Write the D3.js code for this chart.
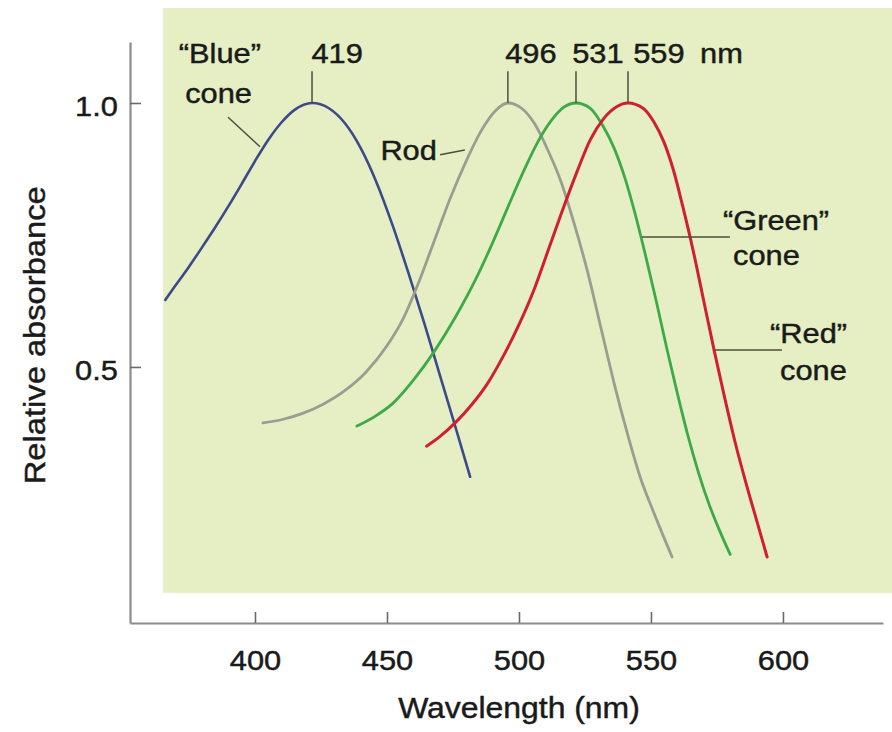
<!DOCTYPE html>
<html>
<head>
<meta charset="utf-8">
<script src="https://cdn.jsdelivr.net/npm/d3@7"></script>
<style>
  body { margin: 0; background: #fff; }
  text { font-family: "Liberation Sans", Arial, Helvetica, sans-serif; fill: #1a1a1a; stroke: #1a1a1a; stroke-width: 0.45px; }
</style>
</head>
<body>
<svg id="chart" width="892" height="732"></svg>
<script>
// absorbance spectra (nm, relative absorbance)
const blueNm  = [366, 370, 375, 380, 385, 390, 395, 400, 405, 410, 415, 421.6, 428, 434, 440, 446, 452, 458, 464, 470, 476, 481.5];
const blueAbs = [0.627, 0.655, 0.69, 0.727, 0.765, 0.805, 0.847, 0.89, 0.93, 0.963, 0.987, 1.0, 0.99, 0.962, 0.915, 0.85, 0.77, 0.68, 0.585, 0.485, 0.385, 0.292];

const rodNm  = [403, 410, 418, 426, 434, 442, 450, 456, 462, 468, 474, 480, 486, 491, 495.8, 501, 506, 511, 516, 521, 526, 531, 536, 541, 546, 551, 558];
const rodAbs = [0.394, 0.40, 0.412, 0.43, 0.455, 0.49, 0.54, 0.59, 0.66, 0.74, 0.82, 0.89, 0.95, 0.985, 1.0, 0.99, 0.96, 0.91, 0.85, 0.77, 0.68, 0.575, 0.47, 0.375, 0.29, 0.225, 0.14];

const greenNm  = [438.6, 445, 452, 460, 468, 476, 484, 490, 496, 501.5, 507, 512, 517, 521.6, 527, 532, 536, 540, 544, 548, 552, 556, 560, 564, 568, 572, 576, 580];
const greenAbs = [0.388, 0.405, 0.43, 0.475, 0.53, 0.595, 0.67, 0.735, 0.805, 0.868, 0.925, 0.965, 0.992, 1.0, 0.99, 0.955, 0.915, 0.86, 0.79, 0.71, 0.625, 0.535, 0.45, 0.37, 0.30, 0.24, 0.19, 0.145];

const redNm  = [465, 470, 476, 482, 488, 494, 500, 506, 511, 516, 522, 527, 532, 537, 541.3, 547, 551, 555, 558.5, 562, 566, 570, 574, 578, 582, 586, 590, 594];
const redAbs = [0.35, 0.368, 0.395, 0.428, 0.468, 0.52, 0.58, 0.65, 0.72, 0.79, 0.87, 0.93, 0.97, 0.993, 1.0, 0.99, 0.965, 0.925, 0.873, 0.805, 0.72, 0.625, 0.53, 0.44, 0.355, 0.28, 0.21, 0.14];

const xTicks = [400, 450, 500, 550, 600];
const yTicks = [0.5, 1.0];

// peak wavelengths printed above the curves, and where each curve tops out on the axis
const peakLabels = ["419", "496", "531", "559"];
const peakAt     = [421.6, 495.8, 521.6, 541.3];

const svg = d3.select("#chart");
const stretch = 1.1; // the lettering in the figure is a bit wide

const x = d3.scaleLinear().domain([352.65, 637.9]).range([130, 883]);
const y = d3.scaleLinear().domain([0.015, 1.1155]).range([623, 42]);

// pale green panel
svg.append("rect")
  .attr("x", x(365.2))
  .attr("y", y(1.18))
  .attr("width", 892 - x(365.2))
  .attr("height", y(0.072) - y(1.18))
  .attr("fill", "#e5efc3");

// axes
const xAxis = d3.axisBottom(x).tickValues(xTicks).tickSize(-11).tickSizeOuter(0).tickPadding(27).tickFormat(d3.format("d"));
const yAxis = d3.axisLeft(y).tickValues(yTicks).tickSize(-11).tickSizeOuter(0).tickPadding(11).tickFormat(d3.format(".1f"));

const gx = svg.append("g").attr("transform", `translate(0,${y(0.015)})`).call(xAxis);
const gy = svg.append("g").attr("transform", `translate(${x(352.65)},0)`).call(yAxis);

[gx, gy].forEach(g => {
  g.select(".domain").attr("stroke", "#8c8c8c").attr("stroke-width", 2.2);
  g.selectAll(".tick line").attr("stroke", "#6a6a6a").attr("stroke-width", 1.6);
  g.selectAll(".tick text").attr("font-size", 28).attr("fill", "#1a1a1a")
    .attr("transform", `scale(${stretch},1)`)
    .style("font-family", "'Liberation Sans', Arial, sans-serif");
});
gy.selectAll(".tick text").attr("dy", "0.45em");

function txt(px, py, s, anchor, size) {
  return svg.append("text")
    .attr("transform", `translate(${px},${py}) scale(${stretch},1)`)
    .attr("text-anchor", anchor)
    .attr("font-size", size)
    .text(s);
}

txt(x(500), 718, "Wavelength (nm)", "middle", 29);

svg.append("text")
  .attr("transform", `translate(45,${y(0.56)}) rotate(-90)`)
  .attr("text-anchor", "middle")
  .attr("font-size", 29)
  .attr("textLength", 298)
  .attr("lengthAdjust", "spacingAndGlyphs")
  .text("Relative absorbance");

// curves
const line = d3.line().x(d => x(d[0])).y(d => y(d[1])).curve(d3.curveMonotoneX);

const curves = [
  { nm: blueNm,  abs: blueAbs,  color: "#3c4a8a", w: 2.6 },
  { nm: rodNm,   abs: rodAbs,   color: "#9b9d92", w: 2.8 },
  { nm: greenNm, abs: greenAbs, color: "#3eaa47", w: 2.8 },
  { nm: redNm,   abs: redAbs,   color: "#cf1f30", w: 3 }
];

curves.forEach(c => {
  svg.append("path")
    .datum(d3.zip(c.nm, c.abs))
    .attr("fill", "none")
    .attr("stroke", c.color)
    .attr("stroke-width", c.w)
    .attr("stroke-linecap", "round")
    .attr("d", line);
});

// little peak markers + numbers
const leader = "#4d4d40";
peakAt.forEach(p => {
  svg.append("line")
    .attr("x1", x(p)).attr("x2", x(p))
    .attr("y1", y(1.0)).attr("y2", y(1.06))
    .attr("stroke", leader).attr("stroke-width", 1.5);
});

const peakLabelX = [431.1, 504.5, 529.9, 553];
peakLabels.forEach((t, i) => txt(x(peakLabelX[i]), y(1.0758), t, "middle", 28));
txt(x(568.6), y(1.0758), "nm", "start", 28);

// curve names
function lead(n1, v1, n2, v2) {
  svg.append("line")
    .attr("x1", x(n1)).attr("y1", y(v1))
    .attr("x2", x(n2)).attr("y2", y(v2))
    .attr("stroke", leader).attr("stroke-width", 1.5);
}

txt(x(386.7), y(1.076), "\u201CBlue\u201D", "middle", 28);
txt(x(386.2), y(1.0), "cone", "middle", 28);
lead(389.8, 0.973, 401.9, 0.917);

txt(x(468.9), y(0.892), "Rod", "end", 28);
lead(470.1, 0.902, 479.5, 0.911);

txt(x(577.3), y(0.759), "\u201CGreen\u201D", "start", 28);
txt(x(581.1), y(0.693), "cone", "start", 28);
lead(546.6, 0.746, 579.9, 0.746);

txt(x(595.1), y(0.545), "\u201CRed\u201D", "start", 28);
txt(x(598.9), y(0.475), "cone", "start", 28);
lead(574.2, 0.532, 599.6, 0.532);
</script>
</body>
</html>
